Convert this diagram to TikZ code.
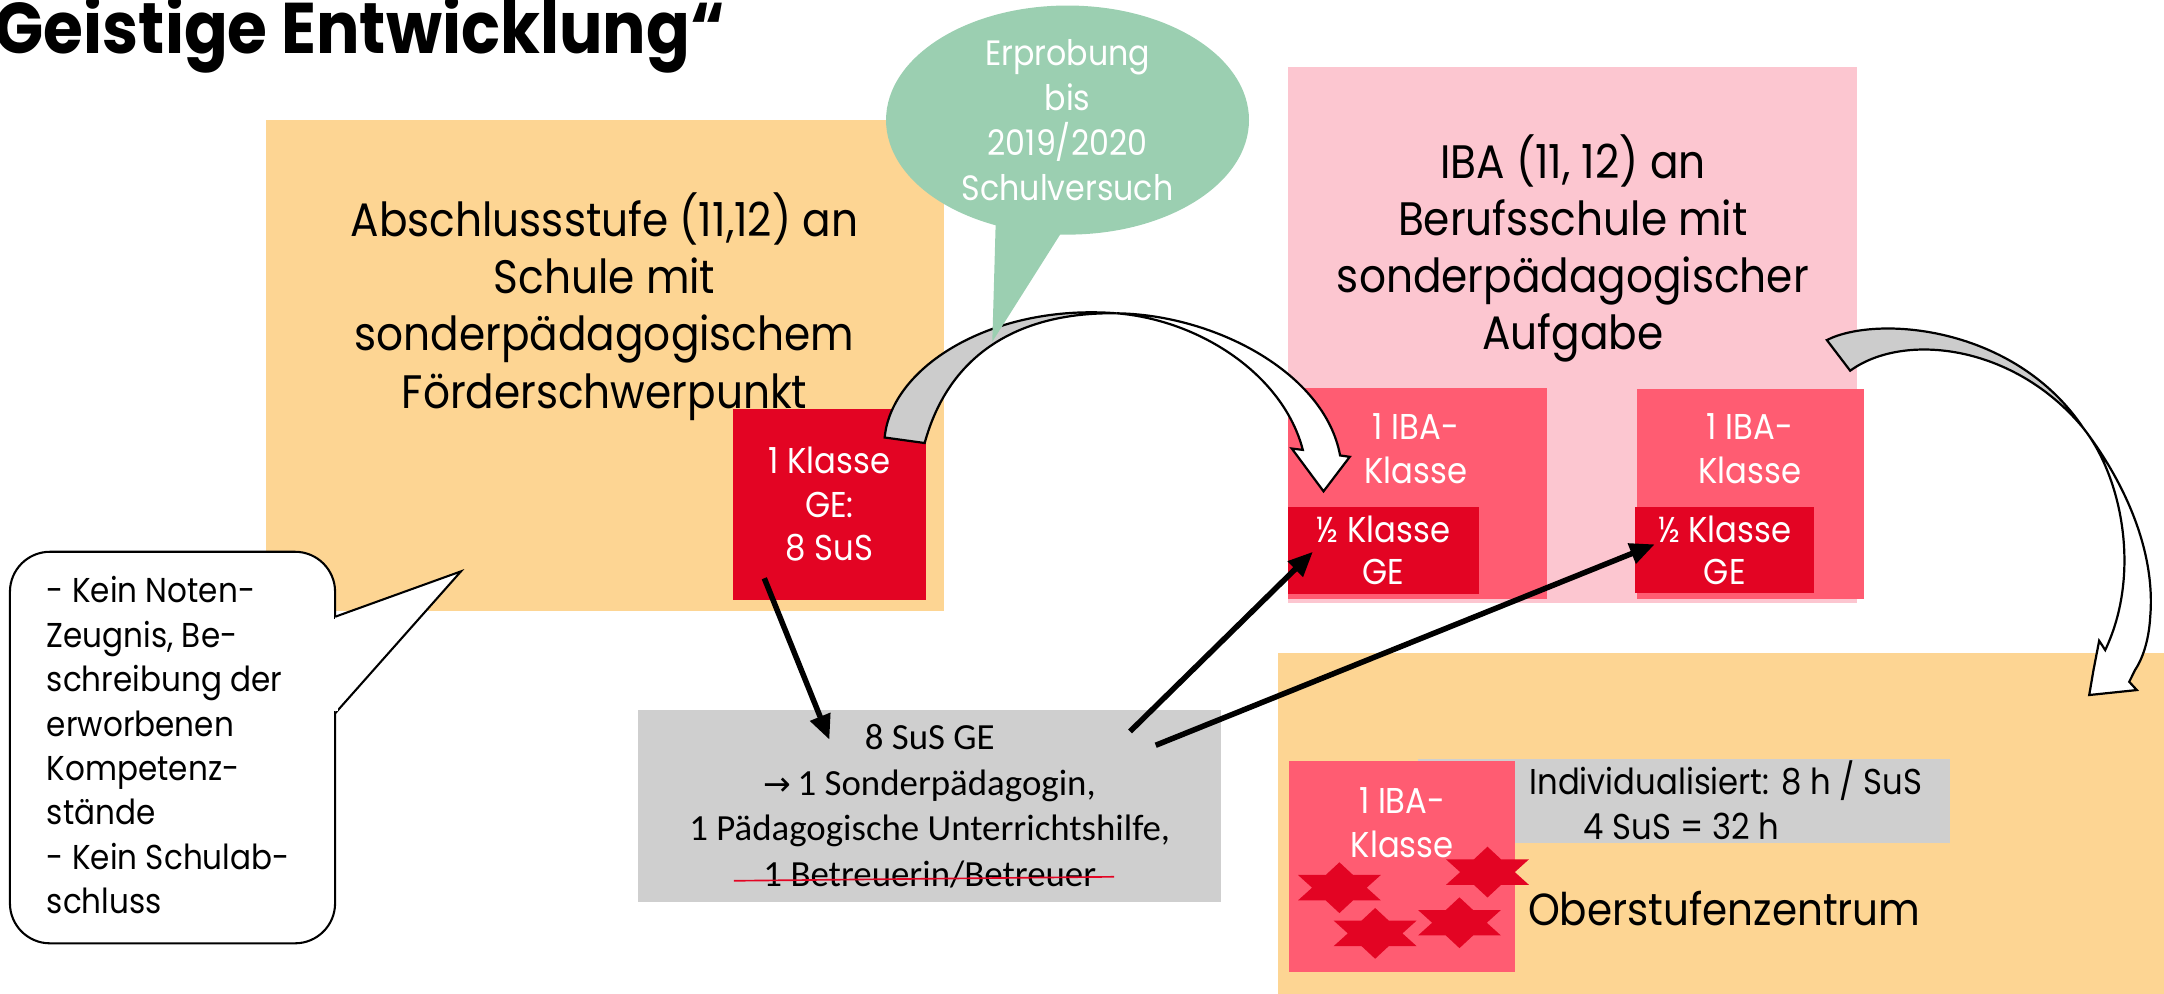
\documentclass[tikz,border=0pt]{standalone}
\usepackage{fontspec}
\setmainfont{Poppins}[FakeStretch=0.9]
\newfontfamily\calfont{Carlito}
\newfontfamily\djv{DejaVu Sans}
\usetikzlibrary{shapes.geometric,arrows.meta}
\definecolor{orangebg}{HTML}{FDD593}
\definecolor{ibared}{HTML}{E30423}
\definecolor{ibapink}{HTML}{FF5C72}
\definecolor{lightpink}{HTML}{FCC6D0}
\definecolor{greencall}{HTML}{9BCFB1}
\definecolor{greybox}{HTML}{CFCFCF}
\definecolor{arrowgrey}{HTML}{CCCCCC}
\begin{document}
\begin{tikzpicture}[x=1pt,y=-1pt,
  box/.style={inner sep=0pt, outer sep=0pt, draw=none},
  bigtxt/.style={font=\fontsize{34}{41.5}\selectfont, align=center, inner sep=0pt},
  wtxt/.style={font=\fontsize{26}{31.5}\selectfont, align=center, text=white},
  blk/.style={line width=4pt, -{Triangle[length=18pt,width=15pt]}},
  ribbon/.style={draw=black, line width=1.6pt, line join=miter},
  hexstar/.pic={\fill[ibared] (0,-18.4) -- (9.9,-9.2) -- (30,-9.2) -- (19.8,0) -- (30,9.2) -- (9.9,9.2) -- (0,18.4) -- (-9.9,9.2) -- (-30,9.2) -- (-19.8,0) -- (-30,-9.2) -- (-9.9,-9.2) -- cycle;}
]
\useasboundingbox (0,0) rectangle (1568,720);

% title
\node[anchor=base west, inner sep=0pt, font=\fontsize{52}{60}\selectfont\bfseries] (title) at (-4,38.6) {Geistige Entwicklung“};

% left school
\node[box, fill=orangebg, minimum width=491pt, minimum height=356pt] (abs) at (438.5,265) {};
\node[bigtxt] (abstxt) at (438,222) {Abschlussstufe (11,12) an\\Schule mit\\sonderpädagogischem\\Förderschwerpunkt};
\node[box, fill=ibared, minimum width=140pt, minimum height=139pt, wtxt] (kl) at (601,365.5) {1 Klasse\\GE:\\8 SuS};

% Berufsschule
\node[box, fill=lightpink, minimum width=412pt, minimum height=388pt] (bs) at (1139.6,242.8) {};
\node[bigtxt] (bstxt) at (1139.7,180) {IBA (11, 12) an\\Berufsschule mit\\sonderpädagogischer\\Aufgabe};
\node[box, fill=ibapink, minimum width=188pt, minimum height=153pt] (iba1) at (1027,357.5) {};
\node[wtxt] (iba1t) at (1026,325) {1 IBA-\\Klasse};
\node[box, fill=ibared, minimum width=139pt, minimum height=63pt, wtxt, font=\fontsize{26}{30.5}\selectfont] (half1) at (1002.5,398.9) {½ Klasse\\GE};
\node[box, fill=ibapink, minimum width=165pt, minimum height=152pt] (iba2) at (1268.4,358) {};
\node[wtxt] (iba2t) at (1268,325) {1 IBA-\\Klasse};
\node[box, fill=ibared, minimum width=129.5pt, minimum height=63pt, wtxt, font=\fontsize{26}{30.5}\selectfont] (half2) at (1249.75,398.5) {½ Klasse\\GE};

% Oberstufenzentrum
\node[box, fill=orangebg, minimum width=648pt, minimum height=254pt] (osz) at (1250,600) {};
\node[box, fill=greybox, minimum width=385.4pt, minimum height=61pt] (indiv) at (1220.3,580.5) {};
\node[box, fill=ibapink, minimum width=164pt, minimum height=152.6pt] (iba3) at (1016,627.7) {};
\node[wtxt] (iba3t) at (1016,596) {1 IBA-\\Klasse};
\pic (s1) at (970.5,643.2) {hexstar};
\pic (s2) at (996.4,676.3) {hexstar};
\pic (s3) at (1077.8,631.9) {hexstar};
\pic (s4) at (1057.5,668.6) {hexstar};
\node[anchor=west, inner sep=0pt, align=left, font=\fontsize{26}{32.5}\selectfont] (indivt) at (1108,580) {Individualisiert: 8 h / SuS\\\hspace*{39.5pt}4 SuS = 32 h};
\node[anchor=west, inner sep=0pt, font=\fontsize{32.6}{40}\selectfont] (ozt) at (1107,658) {Oberstufenzentrum};

% staff box
\node[box, fill=greybox, minimum width=422.6pt, minimum height=139pt, align=center, font=\calfont\fontsize{26.7}{33}\selectfont] (staff) at (673.7,584) {8 SuS GE\\{\djv\fontsize{24}{33}\selectfont →}\,1 Sonderpädagogin,\\1 Pädagogische Unterrichtshilfe,\\1 Betreuerin/Betreuer};
\draw[ibared, line width=1.2pt] (531.7,638.2) -- (807.3,635.3);

% left callout
\node[draw, fill=white, line width=1.5pt, rounded corners=29pt, minimum width=235.6pt, minimum height=283.7pt, inner sep=0pt] (cal) at (125,541.65) {};
\draw[fill=white, line width=1.5pt, line join=miter] (242.8,446.9) -- (334,414) -- (242.8,516.9);
\fill[white] (240.5,448.6) rectangle (245,515.2);
\node[anchor=west, inner sep=0pt, align=left, font=\fontsize{25}{32.2}\selectfont] (kein) at (33.8,540) {- Kein Noten-\\Zeugnis, Be-\\schreibung der\\erworbenen\\Kompetenz-\\stände\\- Kein Schulab-\\schluss};

% straight arrows
\coordinate (a1s) at (553.8,419);
\coordinate (a1e) at (601,536);
\coordinate (a2s) at (818.8,530);
\coordinate (a2e) at (951.3,399.8);
\coordinate (a3s) at (837.4,540);
\coordinate (a3e) at (1199,394.4);
\draw[blk] (a1s) -- (a1e);
\draw[blk] (a2s) -- (a2e);
\draw[blk] (a3s) -- (a3e);

% curved arrow 1
\draw[ribbon, fill=arrowgrey] (641,317) .. controls (646,265) and (720,220) .. (809,227) .. controls (740,226) and (688,255) .. (670,321) -- cycle;
\draw[ribbon, fill=white] (809,227) .. controls (880,228) and (960,270) .. (971,330) -- (978,331) -- (959,356) -- (936,325) -- (944,326) .. controls (930,272) and (870,232) .. (809,227) -- cycle;

% curved arrow 2
\draw[ribbon, fill=arrowgrey] (1323.7,246.4) .. controls (1360,228) and (1460,236) .. (1509.6,310.3) .. controls (1460,250) and (1380,240) .. (1340.6,268.6) -- cycle;
\draw[ribbon, fill=white] (1509.6,310.3) .. controls (1540,350) and (1562,400) .. (1558,446.9) .. controls (1557,465) and (1552,478) .. (1547,485.5) -- (1542.8,494) -- (1548.3,500) -- (1513.8,503.6) -- (1516.9,485.5) -- (1521,464.3) -- (1525.4,471) .. controls (1552,415) and (1537,345) .. (1509.6,310.3) -- cycle;

% green callout
\fill[greencall] (721.5,160) -- (719,247.6) -- (770,167) -- cycle;
\node[ellipse, fill=greencall, minimum width=263pt, minimum height=166pt, inner sep=0pt, align=center, text=white, font=\fontsize{25.5}{32.5}\selectfont] (erp) at (773.5,87) {Erprobung\\bis\\2019/2020\\Schulversuch};
\end{tikzpicture}
\end{document}
